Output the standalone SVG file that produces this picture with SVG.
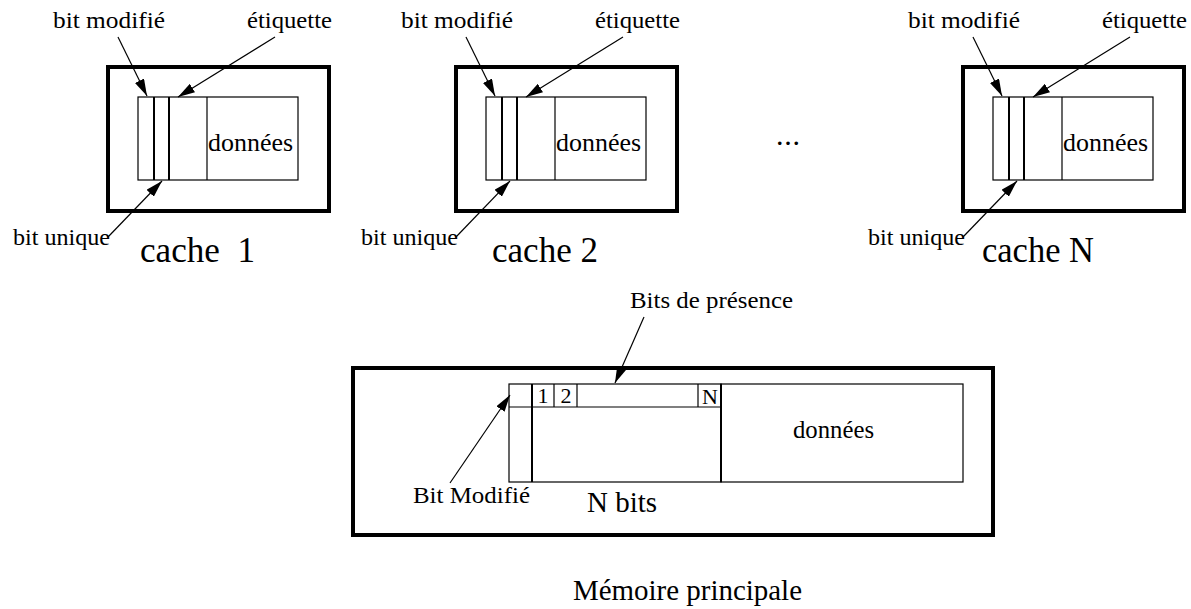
<svg xmlns="http://www.w3.org/2000/svg" width="1191" height="609" viewBox="0 0 1191 609">
<style>
text{font-family:"Liberation Serif","Times New Roman",serif;fill:#000}
.s{font-size:24px}
.c{font-size:35px}
.d{font-size:26px}
.m{font-size:29px}
.thick{fill:none;stroke:#000;stroke-width:4}
.thin{fill:none;stroke:#000;stroke-width:1.2}
.mid{fill:none;stroke:#000;stroke-width:2}
.arr{fill:none;stroke:#000;stroke-width:1.2;marker-end:url(#ah)}
</style>
<defs>
<marker id="ah" markerUnits="userSpaceOnUse" markerWidth="17" markerHeight="10" refX="17" refY="5" orient="auto">
<path d="M0,0 L17,5 L0,10 Z" fill="#000"/>
</marker>
<g id="cacheShape">
<rect x="108" y="67" width="221" height="144" class="thick"/>
<rect x="138" y="97" width="160" height="83" class="thin"/>
<line x1="154" y1="97" x2="154" y2="180" class="mid"/>
<line x1="169" y1="97" x2="169" y2="180" class="mid"/>
<line x1="207" y1="97" x2="207" y2="180" class="thin"/>
<text x="208" y="151" class="d" textLength="85" lengthAdjust="spacingAndGlyphs">données</text>
<text x="53" y="28" class="s" textLength="112" lengthAdjust="spacingAndGlyphs">bit modifié</text>
<text x="247" y="28" class="s" textLength="85" lengthAdjust="spacingAndGlyphs">étiquette</text>
<text x="13" y="245" class="s" textLength="97" lengthAdjust="spacingAndGlyphs">bit unique</text>
</g>
<g id="cacheArrows">
<line x1="118" y1="37" x2="147" y2="96" class="arr"/>
<line x1="275" y1="37" x2="178" y2="97" class="arr"/>
<line x1="108" y1="237" x2="162" y2="181" class="arr"/>
</g>
</defs>
<g id="cache1">
<use href="#cacheShape"/>
<text x="140" y="262" class="c" textLength="115" lengthAdjust="spacingAndGlyphs" xml:space="preserve">cache  1</text>
</g>
<g id="cache2">
<use href="#cacheShape" transform="translate(348,0)"/>
<text x="492" y="262" class="c" textLength="106" lengthAdjust="spacingAndGlyphs">cache 2</text>
</g>
<g id="cacheN">
<use href="#cacheShape" transform="translate(855,0)"/>
<text x="982" y="262" class="c" textLength="112" lengthAdjust="spacingAndGlyphs">cache N</text>
</g>
<g id="ellipsis">
<text x="776" y="145" style="font-size:30px" textLength="24" lengthAdjust="spacing">...</text>
</g>
<g id="memoire">
<rect x="353" y="368" width="640" height="167" class="thick"/>
<rect x="509" y="384" width="212" height="98" class="thin"/>
<line x1="509" y1="407" x2="721" y2="407" class="thin"/>
<line x1="532" y1="384" x2="532" y2="482" class="mid"/>
<line x1="554" y1="384" x2="554" y2="407" class="thin"/>
<line x1="577" y1="384" x2="577" y2="407" class="thin"/>
<line x1="698" y1="384" x2="698" y2="407" class="thin"/>
<line x1="721" y1="384" x2="721" y2="482" class="mid"/>
<rect x="721" y="384" width="242" height="98" class="thin"/>
<text x="543" y="403" style="font-size:22px" text-anchor="middle">1</text>
<text x="566" y="403" style="font-size:22px" text-anchor="middle">2</text>
<text x="710" y="404" style="font-size:22px" text-anchor="middle">N</text>
<text x="793" y="438" style="font-size:25px" textLength="81" lengthAdjust="spacingAndGlyphs">données</text>
<text x="630" y="308" class="s" textLength="163" lengthAdjust="spacingAndGlyphs">Bits de présence</text>
<text x="413" y="503" class="s" textLength="117" lengthAdjust="spacingAndGlyphs">Bit Modifié</text>
<text x="587" y="512" class="m" textLength="70" lengthAdjust="spacingAndGlyphs">N bits</text>
<text x="573" y="600" class="m" textLength="229" lengthAdjust="spacingAndGlyphs">Mémoire principale</text>
</g>
<g id="connectors">
<use href="#cacheArrows"/>
<use href="#cacheArrows" transform="translate(348,0)"/>
<use href="#cacheArrows" transform="translate(855,0)"/>
<line x1="450" y1="483" x2="510" y2="395" class="arr"/>
<line x1="644" y1="317" x2="615" y2="383" class="arr"/>
</g>
</svg>
